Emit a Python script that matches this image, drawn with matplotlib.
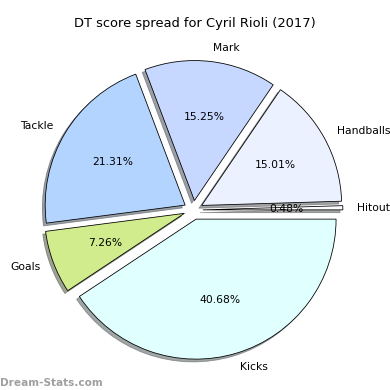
import matplotlib
matplotlib.use('Agg')
import matplotlib.pyplot as plt

# Daten
categories = ['Hitout', 'Handballs', 'Mark', 'Tackle', 'Goals', 'Kicks']
values = [0.48, 15.01, 15.25, 21.31, 7.26, 40.68]
colors = ['#fbfcff', '#ebf1ff', '#c6d8ff', '#b3d4ff', '#d0ec8c', '#e0ffff']
explode = [0.068] * len(values)

fig = plt.figure(figsize=(390 / 72, 390 / 72), dpi=72)
ax = fig.add_axes([0.047, 0.0128, 0.8974, 0.8974])
ax.pie(values, labels=categories, colors=colors, explode=explode,
       autopct='%1.2f%%', shadow=True, startangle=0,
       wedgeprops={'edgecolor': 'black', 'linewidth': 0.8},
       textprops={'fontsize': 10.8})
ax.set_xlim(-1.25, 1.25)
ax.set_ylim(-1.25, 1.25)
ax.set_aspect('equal')
fig.suptitle('DT score spread for Cyril Rioli (2017)', fontsize=13, y=0.957)
fig.text(0.0, 0.01, 'Dream-Stats.com', color='#a0a0a0', fontsize=10.5, fontweight='bold')

fig.savefig('out.png', dpi=72)
